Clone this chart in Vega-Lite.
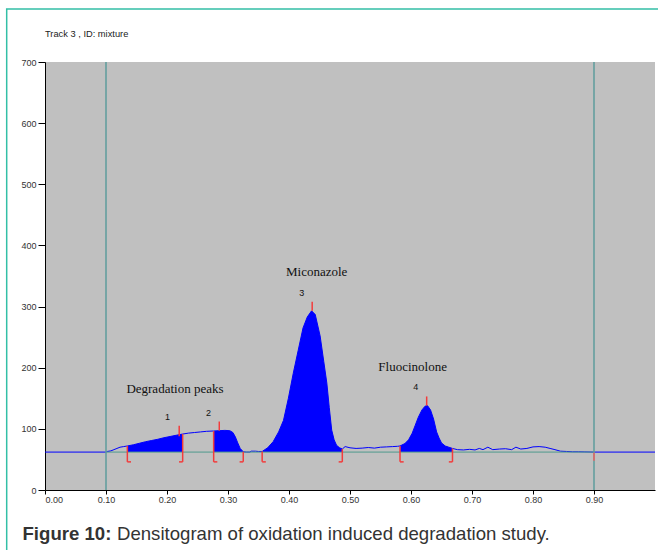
{
  "$schema": "https://vega.github.io/schema/vega-lite/v6.json",
  "autosize": "none",
  "width": 610,
  "height": 428,
  "padding": {"left": 45, "top": 62, "right": 3, "bottom": 60},
  "background": "white",
  "config": {
    "view": {"fill": "#c0c0c0", "stroke": null},
    "font": "Liberation Sans"
  },
  "title": {
    "text": "Track  3 , ID: mixture",
    "orient": "top",
    "anchor": "start",
    "frame": "group",
    "fontSize": 9.3,
    "fontWeight": "normal",
    "font": "Liberation Sans",
    "color": "#222",
    "baseline": "alphabetic",
    "offset": -38
  },
  "datasets": {
    "signal": [
      {"x": 0.0, "y": 62, "peak": null},
      {"x": 0.1, "y": 62, "peak": null},
      {"x": 0.102, "y": 63, "peak": null},
      {"x": 0.108, "y": 64, "peak": null},
      {"x": 0.113, "y": 66, "peak": null},
      {"x": 0.118, "y": 68, "peak": null},
      {"x": 0.123, "y": 70, "peak": null},
      {"x": 0.129, "y": 71, "peak": null},
      {"x": 0.135, "y": 72, "peak": "1"},
      {"x": 0.145, "y": 74, "peak": "1"},
      {"x": 0.155, "y": 76.5, "peak": "1"},
      {"x": 0.165, "y": 79, "peak": "1"},
      {"x": 0.175, "y": 81, "peak": "1"},
      {"x": 0.185, "y": 83, "peak": "1"},
      {"x": 0.195, "y": 85.5, "peak": "1"},
      {"x": 0.205, "y": 87.5, "peak": "1"},
      {"x": 0.215, "y": 89.5, "peak": "1"},
      {"x": 0.2257, "y": 91.5, "peak": "1"},
      {"x": 0.235, "y": 93, "peak": null},
      {"x": 0.245, "y": 94, "peak": null},
      {"x": 0.255, "y": 95, "peak": null},
      {"x": 0.265, "y": 96, "peak": null},
      {"x": 0.2765, "y": 96.5, "peak": "2"},
      {"x": 0.285, "y": 97, "peak": "2"},
      {"x": 0.295, "y": 97.5, "peak": "2"},
      {"x": 0.303, "y": 97, "peak": "2"},
      {"x": 0.308, "y": 94, "peak": "2"},
      {"x": 0.312, "y": 87, "peak": "2"},
      {"x": 0.316, "y": 77, "peak": "2"},
      {"x": 0.32, "y": 68, "peak": "2"},
      {"x": 0.325, "y": 62.5, "peak": "2"},
      {"x": 0.33, "y": 62, "peak": null},
      {"x": 0.336, "y": 62, "peak": null},
      {"x": 0.338, "y": 63.5, "peak": null},
      {"x": 0.345, "y": 63.5, "peak": null},
      {"x": 0.35, "y": 63, "peak": null},
      {"x": 0.356, "y": 63, "peak": "3"},
      {"x": 0.365, "y": 69, "peak": "3"},
      {"x": 0.374, "y": 79, "peak": "3"},
      {"x": 0.383, "y": 95, "peak": "3"},
      {"x": 0.391, "y": 114, "peak": "3"},
      {"x": 0.399, "y": 150, "peak": "3"},
      {"x": 0.407, "y": 191, "peak": "3"},
      {"x": 0.415, "y": 228, "peak": "3"},
      {"x": 0.423, "y": 265, "peak": "3"},
      {"x": 0.43, "y": 283, "peak": "3"},
      {"x": 0.437, "y": 293, "peak": "3"},
      {"x": 0.443, "y": 287, "peak": "3"},
      {"x": 0.451, "y": 252, "peak": "3"},
      {"x": 0.457, "y": 210, "peak": "3"},
      {"x": 0.462, "y": 175, "peak": "3"},
      {"x": 0.466, "y": 135, "peak": "3"},
      {"x": 0.47, "y": 98, "peak": "3"},
      {"x": 0.474, "y": 82, "peak": "3"},
      {"x": 0.478, "y": 73, "peak": "3"},
      {"x": 0.483, "y": 69, "peak": "3"},
      {"x": 0.4874, "y": 67, "peak": "3"},
      {"x": 0.492, "y": 71, "peak": null},
      {"x": 0.5, "y": 69, "peak": null},
      {"x": 0.51, "y": 68, "peak": null},
      {"x": 0.52, "y": 68.5, "peak": null},
      {"x": 0.53, "y": 69.5, "peak": null},
      {"x": 0.54, "y": 68.5, "peak": null},
      {"x": 0.55, "y": 70, "peak": null},
      {"x": 0.56, "y": 70.5, "peak": null},
      {"x": 0.57, "y": 71, "peak": null},
      {"x": 0.578, "y": 71.5, "peak": null},
      {"x": 0.582, "y": 72, "peak": "4"},
      {"x": 0.59, "y": 76, "peak": "4"},
      {"x": 0.596, "y": 82, "peak": "4"},
      {"x": 0.602, "y": 93, "peak": "4"},
      {"x": 0.607, "y": 106, "peak": "4"},
      {"x": 0.612, "y": 119, "peak": "4"},
      {"x": 0.618, "y": 131, "peak": "4"},
      {"x": 0.623, "y": 137, "peak": "4"},
      {"x": 0.627, "y": 138, "peak": "4"},
      {"x": 0.632, "y": 131, "peak": "4"},
      {"x": 0.637, "y": 116, "peak": "4"},
      {"x": 0.642, "y": 95, "peak": "4"},
      {"x": 0.646, "y": 85, "peak": "4"},
      {"x": 0.65, "y": 77, "peak": "4"},
      {"x": 0.656, "y": 72, "peak": "4"},
      {"x": 0.662, "y": 70, "peak": "4"},
      {"x": 0.668, "y": 68, "peak": "4"},
      {"x": 0.676, "y": 66, "peak": null},
      {"x": 0.686, "y": 65.5, "peak": null},
      {"x": 0.696, "y": 66.5, "peak": null},
      {"x": 0.705, "y": 65.5, "peak": null},
      {"x": 0.712, "y": 68, "peak": null},
      {"x": 0.718, "y": 66, "peak": null},
      {"x": 0.726, "y": 70, "peak": null},
      {"x": 0.734, "y": 66, "peak": null},
      {"x": 0.745, "y": 67, "peak": null},
      {"x": 0.755, "y": 67.5, "peak": null},
      {"x": 0.765, "y": 66, "peak": null},
      {"x": 0.772, "y": 70, "peak": null},
      {"x": 0.78, "y": 67, "peak": null},
      {"x": 0.79, "y": 68, "peak": null},
      {"x": 0.8, "y": 70.5, "peak": null},
      {"x": 0.81, "y": 71, "peak": null},
      {"x": 0.82, "y": 70, "peak": null},
      {"x": 0.828, "y": 68, "peak": null},
      {"x": 0.836, "y": 66, "peak": null},
      {"x": 0.845, "y": 63.5, "peak": null},
      {"x": 0.855, "y": 63, "peak": null},
      {"x": 0.865, "y": 62.5, "peak": null},
      {"x": 0.875, "y": 62.5, "peak": null},
      {"x": 0.885, "y": 62.3, "peak": null},
      {"x": 0.9, "y": 62, "peak": null},
      {"x": 1.0, "y": 62, "peak": null}
    ],
    "bounds": [
      {"x": 0.135, "top": 72, "dir": 1},
      {"x": 0.2257, "top": 91.5, "dir": -1},
      {"x": 0.2765, "top": 96.5, "dir": 1},
      {"x": 0.325, "top": 62.5, "dir": -1},
      {"x": 0.356, "top": 63, "dir": 1},
      {"x": 0.4874, "top": 67, "dir": -1},
      {"x": 0.582, "top": 72, "dir": 1},
      {"x": 0.668, "top": 68, "dir": -1}
    ],
    "tops": [
      {"x": 0.22, "low": 88, "high": 105, "label": "1", "lx": 0.201, "ly": 120},
      {"x": 0.2857, "low": 97, "high": 112, "label": "2", "lx": 0.268, "ly": 126.5},
      {"x": 0.438, "low": 293, "high": 308, "label": "3", "lx": 0.421, "ly": 321.7},
      {"x": 0.6257, "low": 138, "high": 153, "label": "4", "lx": 0.6077, "ly": 169}
    ],
    "names": [
      {"x": 0.213, "y": 164.7, "name": "Degradation peaks"},
      {"x": 0.4454, "y": 357, "name": "Miconazole"},
      {"x": 0.6027, "y": 201.7, "name": "Fluocinolone"}
    ]
  },
  "encoding": {
    "x": {
      "type": "quantitative",
      "scale": {"domain": [0, 1], "nice": false, "zero": false},
      "axis": {
        "values": [0, 0.1, 0.2, 0.3, 0.4, 0.5, 0.6, 0.7, 0.8, 0.9],
        "format": ".2f",
        "grid": false,
        "tickSize": 4,
        "labelPadding": 1,
        "labelFontSize": 9,
        "labelColor": "#333",
        "labelFont": "Liberation Sans",
        "domainColor": "#000",
        "tickColor": "#000",
        "title": "Densitogram of oxidation induced degradation study.",
        "titleFont": "Liberation Sans",
        "titleFontSize": 18.6,
        "titleFontWeight": "normal",
        "titleColor": "#333",
        "titleAlign": "left",
        "titleAnchor": "start",
        "titleBaseline": "alphabetic",
        "titleX": 71.5,
        "titleY": 49
      }
    },
    "y": {
      "type": "quantitative",
      "scale": {"domain": [0, 700], "nice": false},
      "axis": {
        "values": [0, 100, 200, 300, 400, 500, 600, 700],
        "grid": false,
        "tickSize": 7,
        "labelPadding": 2,
        "labelFontSize": 9,
        "labelColor": "#333",
        "labelFont": "Liberation Sans",
        "domainColor": "#000",
        "tickColor": "#000",
        "title": "Figure 10:",
        "titleFont": "Liberation Sans",
        "titleFontSize": 18.6,
        "titleFontWeight": "bold",
        "titleColor": "#333",
        "titleAngle": 0,
        "titleAlign": "left",
        "titleBaseline": "alphabetic",
        "titleX": -23,
        "titleY": 477
      }
    }
  },
  "layer": [
    {
      "data": {"name": "signal"},
      "transform": [{"filter": "datum.peak != null"}],
      "mark": {"type": "area", "color": "#0000ff", "opacity": 1},
      "encoding": {
        "x": {"field": "x"},
        "y": {"field": "y"},
        "y2": {"datum": 62},
        "detail": {"field": "peak", "type": "nominal"}
      }
    },
    {
      "data": {"name": "signal"},
      "mark": {"type": "line", "color": "#0000ff", "strokeWidth": 1, "interpolate": "linear"},
      "encoding": {
        "x": {"field": "x"},
        "y": {"field": "y"}
      }
    },
    {
      "data": {"values": [{}]},
      "mark": {"type": "rule", "color": "#4f9a8c", "strokeWidth": 1},
      "encoding": {
        "x": {"datum": 0.1},
        "x2": {"datum": 0.9},
        "y": {"datum": 62}
      }
    },
    {
      "data": {"values": [{"v": 0.1}, {"v": 0.9}]},
      "mark": {"type": "rule", "color": "#5e9c9c", "strokeWidth": 1.5},
      "encoding": {
        "x": {"field": "v"}
      }
    },
    {
      "data": {"name": "bounds"},
      "mark": {"type": "rule", "color": "#f23c3c", "strokeWidth": 1.5},
      "encoding": {
        "x": {"field": "x"},
        "y": {"field": "top"},
        "y2": {"datum": 46}
      }
    },
    {
      "data": {"name": "bounds"},
      "transform": [{"calculate": "datum.x + datum.dir * 0.006", "as": "xt"}],
      "mark": {"type": "rule", "color": "#f23c3c", "strokeWidth": 1.5},
      "encoding": {
        "x": {"field": "x"},
        "x2": {"field": "xt"},
        "y": {"datum": 46}
      }
    },
    {
      "data": {"values": [{"x": 0.9}]},
      "mark": {"type": "rule", "color": "#f06060", "strokeWidth": 1.5},
      "encoding": {
        "x": {"field": "x"},
        "y": {"datum": 61},
        "y2": {"datum": 48}
      }
    },
    {
      "data": {"name": "tops"},
      "mark": {"type": "rule", "color": "#f23c3c", "strokeWidth": 1.5},
      "encoding": {
        "x": {"field": "x"},
        "y": {"field": "low"},
        "y2": {"field": "high"}
      }
    },
    {
      "data": {"name": "tops"},
      "mark": {"type": "text", "font": "Liberation Sans", "fontSize": 9, "color": "#111", "baseline": "middle", "align": "center"},
      "encoding": {
        "x": {"field": "lx"},
        "y": {"field": "ly"},
        "text": {"field": "label"}
      }
    },
    {
      "data": {"name": "names"},
      "mark": {"type": "text", "font": "Liberation Serif", "fontSize": 13, "color": "#111", "baseline": "middle", "align": "center"},
      "encoding": {
        "x": {"field": "x"},
        "y": {"field": "y"},
        "text": {"field": "name"}
      }
    },
    {
      "data": {"values": [{}]},
      "mark": {"type": "rect", "filled": false, "stroke": "#33bfa6", "strokeWidth": 1.5, "clip": false},
      "encoding": {
        "x": {"datum": -0.0628},
        "x2": {"datum": 1.2},
        "y": {"datum": 786.5},
        "y2": {"datum": -200}
      }
    }
  ]
}
